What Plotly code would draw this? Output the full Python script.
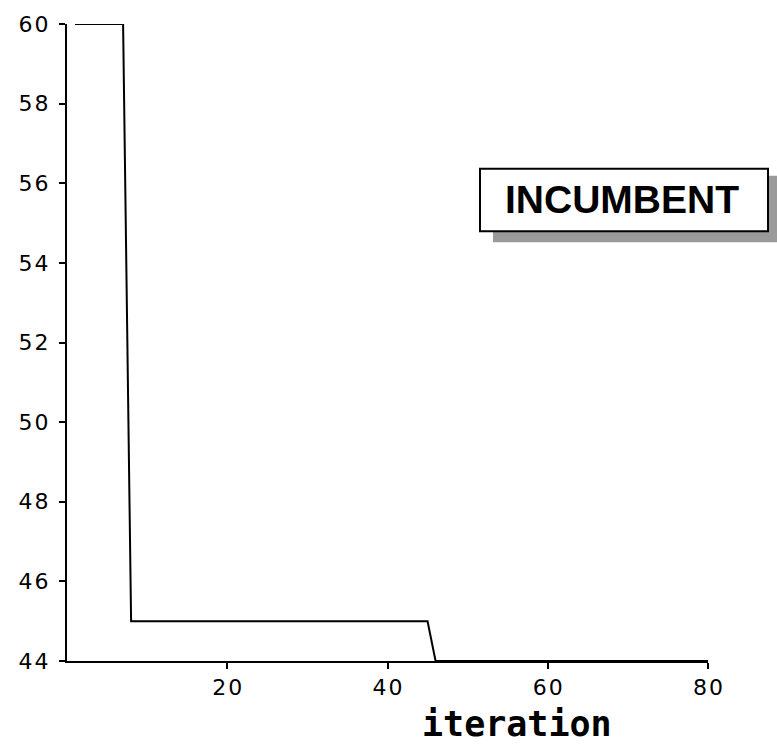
import plotly.graph_objects as go

# Incumbent objective value by iteration (vertices of the piecewise-linear trace)
iteration = [1, 7, 8, 45, 46, 80]
incumbent = [60, 60, 45, 45, 44, 44]

x_ticks = [20, 40, 60, 80]
y_ticks = [44, 46, 48, 50, 52, 54, 56, 58, 60]

W, H = 777, 747
L, R, T, B = 67, 69, 19, 86
PW, PH = W - L - R, H - T - B


def px(x):
    return (x - L) / PW


def py(y):
    return (H - B - y) / PH


def spaced(v):
    # widen the digit spacing a little with hair spaces
    return "\u200a".join(str(v))


fig = go.Figure()
fig.add_trace(go.Scatter(
    x=iteration, y=incumbent, mode="lines",
    line=dict(color="black", width=2), showlegend=False, hoverinfo="skip",
))

tick_font = dict(family="DejaVu Sans", size=22, color="black")

fig.update_layout(
    width=W, height=H,
    margin=dict(l=L, r=R, t=T, b=B, pad=0),
    paper_bgcolor="white", plot_bgcolor="white",
    xaxis=dict(
        range=[0, 80], tickvals=x_ticks, ticktext=[spaced(v) for v in x_ticks],
        showline=True, linecolor="black", linewidth=2,
        ticks="outside", ticklen=6, tickwidth=2, tickcolor="black",
        showgrid=False, zeroline=False, tickfont=tick_font,
        ticklabelstandoff=0,
    ),
    yaxis=dict(
        range=[44, 60], tickvals=y_ticks, ticktext=[spaced(v) for v in y_ticks],
        showline=True, linecolor="black", linewidth=2,
        ticks="outside", ticklen=6, tickwidth=2, tickcolor="black",
        showgrid=False, zeroline=False, tickfont=tick_font,
        ticklabelstandoff=6,
    ),
    shapes=[
        # drop shadow
        dict(type="rect", xref="paper", yref="paper",
             x0=px(493), x1=px(777), y0=py(239), y1=py(172),
             fillcolor="#9a9a9a", line=dict(width=0), layer="above"),
        # label box
        dict(type="rect", xref="paper", yref="paper",
             x0=px(480), x1=px(768), y0=py(228), y1=py(165),
             fillcolor="white", line=dict(color="black", width=2), layer="above"),
    ],
    annotations=[
        dict(text="<b>INCUMBENT</b>", xref="paper", yref="paper",
             x=px(622), y=py(196), xanchor="center", yanchor="middle",
             showarrow=False,
             font=dict(family="Liberation Sans", size=39, color="black")),
        dict(text="iteration", xref="paper", yref="paper",
             x=px(517), y=py(724), xanchor="center", yanchor="middle",
             showarrow=False,
             font=dict(family="DejaVu Sans Mono", size=35, color="black",
                       weight=600)),
    ],
)

fig.write_html("out.html")
